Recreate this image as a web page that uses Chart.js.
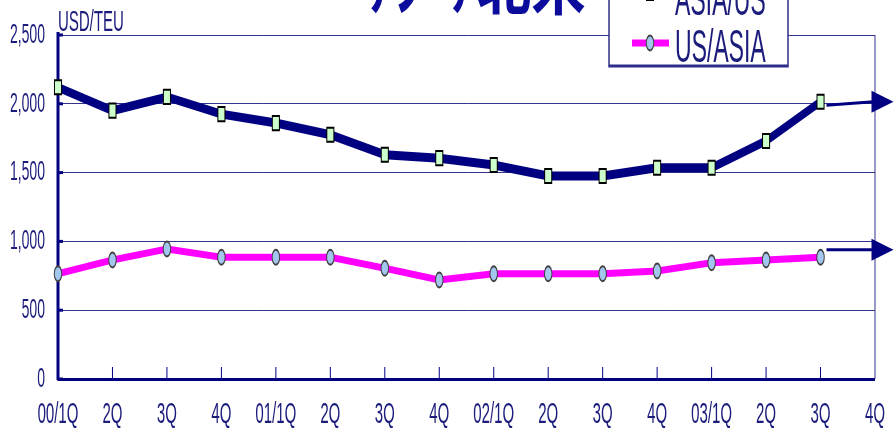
<!DOCTYPE html>
<html>
<head>
<meta charset="utf-8">
<title>ASIA/US rates</title>
<style>
  html, body { margin: 0; padding: 0; background: #fff; overflow: hidden; }
  #rateChart { display: block; }
</style>
</head>
<body>
<!-- the source picture is squeezed to half width, so the canvas is drawn
     twice as wide and shown at 894px -->
<canvas id="rateChart" width="1788" height="431" style="width:894px;height:431px"></canvas>
<script src="https://cdn.jsdelivr.net/npm/chart.js@4.4.1/dist/chart.umd.min.js"></script>
<script>
const QUARTERS = [
    '00/1Q', '2Q', '3Q', '4Q',
    '01/1Q', '2Q', '3Q', '4Q',
    '02/1Q', '2Q', '3Q', '4Q',
    '03/1Q', '2Q', '3Q', '4Q'
]

const ASIA_US = [2120, 1950, 2050, 1925, 1860, 1775, 1630, 1605, 1555, 1475, 1475, 1535, 1535, 1730, 2015, null]
const US_ASIA = [765, 865, 945, 885, 885, 885, 805, 720, 765, 765, 765, 785, 845, 865, 885, null]

const SERIES = ['ASIA/US', 'US/ASIA']
const Y_TICKS = [0, 500, 1000, 1500, 2000, 2500]

// the trend arrows after the last quarter, in USD/TEU
const ARROW_FROM = [1990, 940]
const ARROW_TO = [2015, 940]

const UNIT = 'USD/TEU'
const TITLE = 'ｱｼﾞｱ北米'

const NAVY = '#000080'
const TEXT = '#1c1c7c'
const GRID = '#34348e'
const FONT = "'Liberation Sans', Arial, sans-serif"

const decor = {
    id: 'decor',
    beforeDatasetsDraw(chart) {
        const ctx = chart.ctx
        const area = chart.chartArea
        const x = chart.scales.x
        const y = chart.scales.y
        ctx.save()
        ctx.strokeStyle = NAVY
        // small inner ticks on the bottom axis
        ctx.lineWidth = 2
        for (let i = 0; i < QUARTERS.length; i++) {
            const px = x.getPixelForTick(i)
            ctx.beginPath()
            ctx.moveTo(px, area.bottom)
            ctx.lineTo(px, area.bottom - 12)
            ctx.stroke()
        }
        ctx.lineWidth = 3
        Y_TICKS.forEach(v => {
            const py = y.getPixelForValue(v)
            ctx.beginPath()
            ctx.moveTo(area.left, py)
            ctx.lineTo(area.left + 10, py)
            ctx.stroke()
        })
        // right frame line
        ctx.strokeStyle = GRID
        ctx.lineWidth = 2
        ctx.beginPath()
        ctx.moveTo(area.right, area.top)
        ctx.lineTo(area.right, area.bottom)
        ctx.stroke()
        ctx.restore()
    },
    afterDraw(chart) {
        const ctx = chart.ctx
        const area = chart.chartArea
        const y = chart.scales.y
        ctx.save()

        // arrows going off to the right edge
        chart.data.datasets.forEach((ds, i) => {
            const last = ds.data.findLastIndex(v => v !== null)
            const pt = chart.getDatasetMeta(i).data[last]
            const x0 = pt.x + 12
            const y0 = y.getPixelForValue(ARROW_FROM[i])
            const x1 = chart.width - 1
            const y1 = y.getPixelForValue(ARROW_TO[i])
            ctx.strokeStyle = NAVY
            ctx.fillStyle = NAVY
            ctx.lineWidth = 3
            ctx.beginPath()
            ctx.moveTo(x0, y0)
            ctx.lineTo(x1 - 40, y1)
            ctx.stroke()
            ctx.beginPath()
            ctx.moveTo(x1, y1)
            ctx.lineTo(x1 - 44, y1 - 11)
            ctx.lineTo(x1 - 44, y1 + 11)
            ctx.closePath()
            ctx.fill()
        })

        // legend box, cut at the top like the source
        ctx.fillStyle = '#fff'
        ctx.strokeStyle = '#2c2c8a'
        ctx.lineWidth = 3
        ctx.fillRect(1218, -20, 358, 86)
        ctx.strokeRect(1218, -20, 358, 86)
        chart.data.datasets.forEach((ds, i) => {
            const base = 15 + i * 47
            const cy = i === 0 ? base - 22 : base - 19
            ctx.strokeStyle = ds.borderColor
            ctx.lineWidth = 7
            ctx.beginPath()
            ctx.moveTo(1264, cy)
            ctx.lineTo(1338, cy)
            ctx.stroke()
            ctx.fillStyle = ds.pointBackgroundColor
            ctx.strokeStyle = ds.pointBorderColor
            ctx.lineWidth = ds.pointBorderWidth
            Chart.helpers.drawPoint(ctx, {
                pointStyle: ds.pointStyle,
                radius: ds.pointRadius,
                borderWidth: ds.pointBorderWidth
            }, 1300, cy)
            ctx.fillStyle = TEXT
            ctx.font = '46px ' + FONT
            ctx.textAlign = 'left'
            ctx.textBaseline = 'alphabetic'
            ctx.fillText(ds.label, 1350, base)
        })

        // unit label
        ctx.fillStyle = TEXT
        ctx.font = '30px ' + FONT
        ctx.fillText(UNIT, area.left, 31)

        // title, mostly above the picture
        ctx.translate(736, 9)
        ctx.scale(1.7, 1)
        ctx.fillStyle = '#0c0c9c'
        ctx.font = "bold 64px 'Noto Sans CJK JP', sans-serif"
        ctx.fillText(TITLE, 0, 0)
        ctx.restore()
    }
}

const rateChart = new Chart(document.getElementById('rateChart'), {
    type: 'line',
    data: {
        labels: QUARTERS,
        datasets: [
            {
                label: SERIES[0],
                data: ASIA_US,
                borderColor: NAVY,
                borderWidth: 9,
                pointStyle: 'rect',
                pointRadius: 10,
                pointBackgroundColor: '#ccffcc',
                pointBorderColor: '#000000',
                pointBorderWidth: 2
            },
            {
                label: SERIES[1],
                data: US_ASIA,
                borderColor: '#ff00ff',
                borderWidth: 7,
                pointStyle: 'circle',
                pointRadius: 7.5,
                pointBackgroundColor: '#a2c6ee',
                pointBorderColor: '#404040',
                pointBorderWidth: 2
            }
        ]
    },
    options: {
        responsive: false,
        maintainAspectRatio: false,
        devicePixelRatio: 1,
        animation: false,
        events: [],
        layout: { padding: { top: 35, right: 30, left: 0, bottom: 0 } },
        plugins: {
            legend: { display: false },
            tooltip: { enabled: false }
        },
        scales: {
            x: {
                grid: { display: true, drawOnChartArea: false, drawTicks: false },
                border: { display: true, color: NAVY, width: 3 },
                ticks: {
                    autoSkip: false,
                    maxRotation: 0,
                    padding: 18,
                    color: TEXT,
                    font: { family: FONT, size: 30 }
                },
                afterFit: (scale) => { scale.height = 52 }
            },
            y: {
                min: 0,
                max: 2500,
                afterBuildTicks: (scale) => {
                    scale.ticks = Y_TICKS.map(v => ({ value: v }))
                },
                grid: { color: GRID, lineWidth: 1, drawTicks: false },
                border: { display: true, color: NAVY, width: 6 },
                ticks: {
                    padding: 26,
                    color: TEXT,
                    font: { family: FONT, size: 28 },
                    callback: (v) => v.toLocaleString('en-US')
                },
                afterFit: (scale) => {
                    // tick padding would otherwise push the plot top down
                    scale.width = 116
                    scale.paddingTop = 0
                    scale.paddingBottom = 0
                }
            }
        }
    },
    plugins: [decor]
});
</script>
</body>
</html>
